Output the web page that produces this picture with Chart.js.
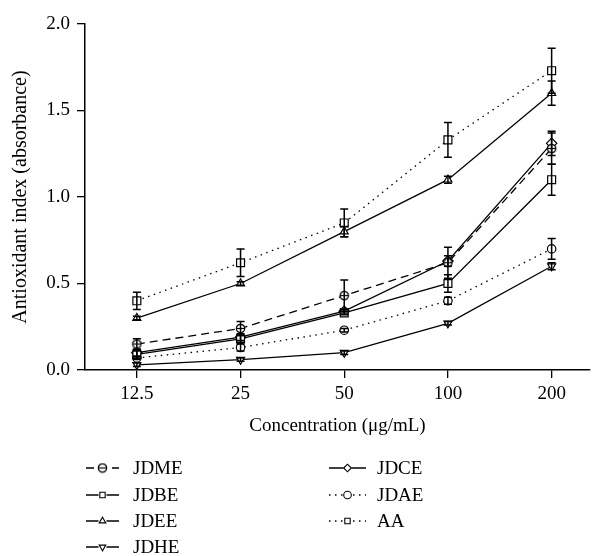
<!DOCTYPE html>
<html>
<head>
<meta charset="utf-8">
<script src="https://cdn.jsdelivr.net/npm/chart.js@4.4.1/dist/chart.umd.min.js"></script>
<style>
  html, body { margin: 0; padding: 0; background: #fff; }
  #wrap { width: 597px; height: 556px; }
</style>
</head>
<body>
<div id="wrap"><canvas id="chart" width="597" height="556"></canvas></div>
<script>
// concentrations (ug/mL)
const concentrations = ["12.5", "25", "50", "100", "200"];
const yTicks = [0, 0.5, 1.0, 1.5, 2.0];

// mean absorbance per extract
const jdme = [0.15, 0.24, 0.43, 0.62, 1.28];
const jdbe = [0.09, 0.18, 0.33, 0.50, 1.10];
const jdee = [0.30, 0.50, 0.80, 1.10, 1.60];
const jdhe = [0.03, 0.06, 0.10, 0.27, 0.60];
const jdce = [0.10, 0.19, 0.34, 0.63, 1.31];
const jdae = [0.07, 0.13, 0.23, 0.40, 0.70];
const aa   = [0.40, 0.62, 0.85, 1.33, 1.73];

// error bar half-widths
const jdmeErr = [0.03, 0.04, 0.09, 0.09, 0.09];
const jdbeErr = [0.02, 0.02, 0.01, 0.05, 0.09];
const jdeeErr = [0.01, 0.01, 0.03, 0.02, 0.07];
const jdheErr = [0.01, 0.01, 0.01, 0.01, 0.02];
const jdceErr = [0.02, 0.02, 0.01, 0.03, 0.07];
const jdaeErr = [0.01, 0.02, 0.01, 0.02, 0.06];
const aaErr   = [0.05, 0.08, 0.08, 0.10, 0.13];

const FONT = "'Liberation Serif', 'DejaVu Serif', serif";

// circle with a bar through it for JDME
function thetaMarker() {
  const c = document.createElement('canvas');
  c.width = 11; c.height = 11;
  const g = c.getContext('2d');
  g.fillStyle = '#fff';
  g.strokeStyle = '#000';
  g.lineWidth = 1.2;
  g.beginPath(); g.arc(5.5, 5.5, 4.2, 0, Math.PI * 2); g.fill(); g.stroke();
  g.beginPath(); g.moveTo(1.5, 5.5); g.lineTo(9.5, 5.5); g.stroke();
  return c;
}
const theta = thetaMarker();

function series(label, data, err, style, dash, r, rot) {
  return {
    label: label,
    data: data.map((v, i) => ({ x: i, y: v })),
    err: err,
    borderColor: '#000',
    borderWidth: 1.3,
    borderDash: dash,
    backgroundColor: '#fff',
    pointStyle: style,
    pointRotation: rot || 0,
    pointRadius: r,
    pointBorderWidth: 1.2,
    pointBorderColor: '#000',
    pointBackgroundColor: '#fff',
    tension: 0,
    fill: false
  };
}

const datasets = [
  series('JDME', jdme, jdmeErr, theta, [8, 5], 4.5),
  series('JDBE', jdbe, jdbeErr, 'rect', [], 5.6),
  series('JDEE', jdee, jdeeErr, 'triangle', [], 4.6),
  series('JDHE', jdhe, jdheErr, 'triangle', [], 4.6, 180),
  series('JDCE', jdce, jdceErr, 'rectRot', [], 5.2),
  series('JDAE', jdae, jdaeErr, 'circle', [1.5, 4.5], 4.2),
  series('AA', aa, aaErr, 'rect', [1.5, 4.5], 5.6)
];

const errorBars = {
  id: 'errorBars',
  afterDatasetsDraw(chart) {
    const ctx = chart.ctx, xs = chart.scales.x, ys = chart.scales.y;
    ctx.save();
    ctx.strokeStyle = '#000';
    ctx.lineWidth = 1.5;
    chart.data.datasets.forEach(ds => {
      ds.data.forEach((p, i) => {
        const e = ds.err[i];
        const x = xs.getPixelForValue(p.x);
        const top = ys.getPixelForValue(p.y + e);
        const bot = ys.getPixelForValue(p.y - e);
        ctx.beginPath();
        ctx.moveTo(x, top); ctx.lineTo(x, bot);
        ctx.moveTo(x - 4, top); ctx.lineTo(x + 4, top);
        ctx.moveTo(x - 4, bot); ctx.lineTo(x + 4, bot);
        ctx.stroke();
      });
    });
    ctx.restore();
  }
};

// two-column legend under the axis title
const sideLegend = {
  id: 'sideLegend',
  afterDraw(chart) {
    const ctx = chart.ctx;
    const cols = [{ x0: 86, x1: 119, tx: 133 }, { x0: 329, x1: 366, tx: 377 }];
    const rows = [468, 495, 521, 547];
    ctx.save();
    ctx.font = '19px ' + FONT;
    ctx.textBaseline = 'middle';
    ctx.fillStyle = '#000';
    chart.data.datasets.forEach((ds, k) => {
      const col = cols[k < 4 ? 0 : 1];
      const y = rows[k < 4 ? k : k - 4];
      const mid = (col.x0 + col.x1) / 2;
      ctx.strokeStyle = '#000';
      ctx.lineWidth = 1.3;
      ctx.setLineDash(ds.borderDash);
      ctx.beginPath(); ctx.moveTo(col.x0, y); ctx.lineTo(col.x1, y); ctx.stroke();
      ctx.setLineDash([]);
      // clear behind marker then draw it
      ctx.fillStyle = '#fff';
      ctx.fillRect(mid - 4, y - 4, 8, 8);
      ctx.lineWidth = 1.1;
      Chart.helpers.drawPoint(ctx, {
        pointStyle: ds.pointStyle, rotation: ds.pointRotation, radius: 3.8, borderWidth: 1.1
      }, mid, y);
      ctx.fillStyle = '#000';
      ctx.fillText(ds.label, col.tx, y + 1);
    });
    ctx.restore();
  }
};

new Chart(document.getElementById('chart'), {
  type: 'line',
  data: { datasets: datasets },
  plugins: [errorBars, sideLegend],
  options: {
    responsive: false,
    animation: false,
    layout: { padding: { top: 24, right: 7, bottom: 119, left: 9 } },
    plugins: { legend: { display: false }, tooltip: { enabled: false } },
    scales: {
      x: {
        type: 'linear',
        min: -0.5,
        max: 4.37,
        afterBuildTicks: s => { s.ticks = concentrations.map((c, i) => ({ value: i })); },
        afterFit: s => { s.height = 67; },
        ticks: {
          callback: v => concentrations[v],
          color: '#000',
          font: { family: FONT, size: 19 },
          padding: 5,
          maxRotation: 0
        },
        grid: { drawOnChartArea: false, drawTicks: true, tickLength: 8, color: '#000', lineWidth: 1.3 },
        border: { color: '#000', width: 1.5 },
        title: {
          display: true,
          text: 'Concentration (\u03bcg/mL)',
          color: '#000',
          font: { family: FONT, size: 19 },
          padding: 0
        }
      },
      y: {
        min: 0,
        max: 2,
        afterBuildTicks: s => { s.ticks = yTicks.map(v => ({ value: v })); },
        afterFit: s => { s.width = 76; },
        ticks: {
          callback: v => v.toFixed(1),
          color: '#000',
          font: { family: FONT, size: 19 },
          padding: 7
        },
        grid: { drawOnChartArea: false, drawTicks: true, tickLength: 8, color: '#000', lineWidth: 1.3 },
        border: { color: '#000', width: 1.5 },
        title: {
          display: true,
          text: 'Antioxidant index (absorbance)',
          color: '#000',
          font: { family: FONT, size: 20 },
          padding: 0
        }
      }
    }
  }
});
</script>
</body>
</html>
